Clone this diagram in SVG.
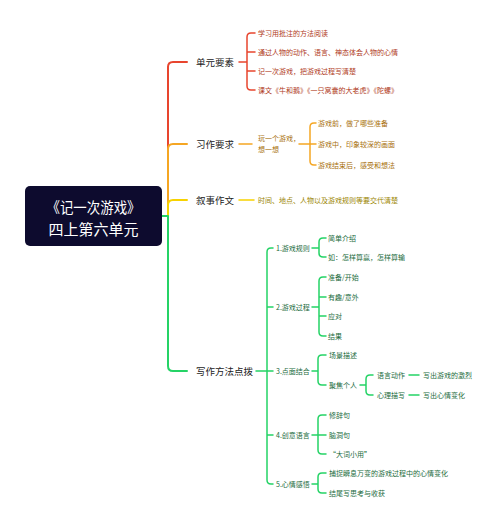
<svg xmlns="http://www.w3.org/2000/svg" width="500" height="519" viewBox="0 0 500 519">
<style>
text{font-family:"Noto Sans CJK SC","Noto Sans",sans-serif;dominant-baseline:central}
.main{font-size:9.5px;fill:#222}
.s{font-size:7px}
.r{fill:#b03a22}.o{fill:#a8700c}.y{fill:#9a8500}.g{fill:#226b3c}
.lr,.lo,.ly,.lg{fill:none;stroke-width:1.5;stroke-linecap:round;stroke-linejoin:round}
.lr{stroke:#e8452e}.lo{stroke:#f5a623}.ly{stroke:#f7d200}.lg{stroke:#25d366}
.t{stroke-width:2}
</style>
<rect width="500" height="519" fill="#fff"/>
<g id="connectors">
<path class="lr t" d="M162,216 H168 V67 Q168,62 173,62 H187"/>
<path class="lo t" d="M162,216 H168 V149 Q168,144 173,144 H187"/>
<path class="ly t" d="M162,216 H168 V205 Q168,200 173,200 H187"/>
<path class="lg t" d="M162,216 H168 V366 Q168,371 173,371 H187"/>
<path class="lr" d="M239,62 H247 M255,33 H251 Q247,33 247,37 V86 Q247,90 251,90 H255 M247,52 H255 M247,71 H255"/>
<path class="lo" d="M239,144 H252 M299,144 H310 M316,123 H314 Q310,123 310,127 V161 Q310,165 314,165 H316 M310,144 H316"/>
<path class="ly" d="M239,200 H254"/>
<path class="lg" d="M256,371 H273 M273,248 H271 Q267,248 267,252 V480 Q267,484 271,484 H273 M267,307 H273 M267,435 H273"/>
<path class="lg" d="M312,248 H319 M326,238 H323 Q319,238 319,242 V253 Q319,257 323,257 H326"/>
<path class="lg" d="M312,307 H319 M326,277 H323 Q319,277 319,281 V332 Q319,336 323,336 H326 M319,297 H326 M319,316 H326"/>
<path class="lg" d="M312,371 H318 M326,355 H322 Q318,355 318,359 V381 Q318,385 322,385 H326"/>
<path class="lg" d="M360,385 H366 M373,375 H370 Q366,375 366,379 V391 Q366,395 370,395 H373 M409,375 H419 M409,395 H419"/>
<path class="lg" d="M312,435 H318 M326,415 H322 Q318,415 318,419 V450 Q318,454 322,454 H326 M318,435 H326"/>
<path class="lg" d="M312,484 H318 M326,473 H322 Q318,473 318,477 V489 Q318,493 322,493 H326"/>
</g>
<g id="root">
<rect x="25" y="186" width="137" height="60" rx="5" fill="#0d0b2e"/>
<text x="93.5" y="206" font-size="15" fill="#fff" text-anchor="middle" textLength="94" lengthAdjust="spacingAndGlyphs">《记一次游戏》</text>
<text x="93.5" y="228" font-size="15" fill="#fff" text-anchor="middle">四上第六单元</text>
</g>
<g id="n1"><text class="main" x="196" y="62">单元要素</text></g>
<g id="n1a"><text class="s r" x="258" y="33">学习用批注的方法阅读</text></g>
<g id="n1b"><text class="s r" x="258" y="52">通过人物的动作、语言、神态体会人物的心情</text></g>
<g id="n1c"><text class="s r" x="258" y="71">记一次游戏，把游戏过程写清楚</text></g>
<g id="n1d"><text class="s r" x="258" y="90">课文《牛和鹅》《一只窝囊的大老虎》《陀螺》</text></g>
<g id="n2"><text class="main" x="196" y="144">习作要求</text></g>
<g id="n2a"><text class="s o" x="258" y="138">玩一个游戏，</text><text class="s o" x="258" y="149">想一想</text></g>
<g id="n2a1"><text class="s o" x="318" y="123">游戏前，做了哪些准备</text></g>
<g id="n2a2"><text class="s o" x="318" y="144">游戏中，印象较深的画面</text></g>
<g id="n2a3"><text class="s o" x="318" y="165">游戏结束后，感受和想法</text></g>
<g id="n3"><text class="main" x="196" y="200">叙事作文</text></g>
<g id="n3a"><text class="s y" x="258" y="200">时间、地点、人物以及游戏规则等要交代清楚</text></g>
<g id="n4"><text class="main" x="196" y="371">写作方法点拨</text></g>
<g id="n41"><text class="s g" x="276" y="248">1.游戏规则</text></g>
<g id="n41a"><text class="s g" x="328" y="238">简单介绍</text></g>
<g id="n41b"><text class="s g" x="328" y="257">如：怎样算赢，怎样算输</text></g>
<g id="n42"><text class="s g" x="276" y="307">2.游戏过程</text></g>
<g id="n42a"><text class="s g" x="328" y="277">准备/开始</text></g>
<g id="n42b"><text class="s g" x="328" y="297">有趣/意外</text></g>
<g id="n42c"><text class="s g" x="328" y="316">应对</text></g>
<g id="n42d"><text class="s g" x="328" y="336">结果</text></g>
<g id="n43"><text class="s g" x="276" y="371">3.点面结合</text></g>
<g id="n43a"><text class="s g" x="329" y="355">场景描述</text></g>
<g id="n43b"><text class="s g" x="329" y="385">聚焦个人</text></g>
<g id="n43b1"><text class="s g" x="377" y="375">语言动作</text></g>
<g id="n43b2"><text class="s g" x="377" y="395">心理描写</text></g>
<g id="n43b1a"><text class="s g" x="423" y="375">写出游戏的激烈</text></g>
<g id="n43b2a"><text class="s g" x="423" y="395">写出心情变化</text></g>
<g id="n44"><text class="s g" x="276" y="435">4.创意语言</text></g>
<g id="n44a"><text class="s g" x="329" y="415">修辞句</text></g>
<g id="n44b"><text class="s g" x="329" y="435">脑洞句</text></g>
<g id="n44c"><text class="s g" x="329" y="454">“大词小用”</text></g>
<g id="n45"><text class="s g" x="276" y="484">5.心情感悟</text></g>
<g id="n45a"><text class="s g" x="329" y="473">捕捉瞬息万变的游戏过程中的心情变化</text></g>
<g id="n45b"><text class="s g" x="329" y="493">结尾写思考与收获</text></g>
</svg>
